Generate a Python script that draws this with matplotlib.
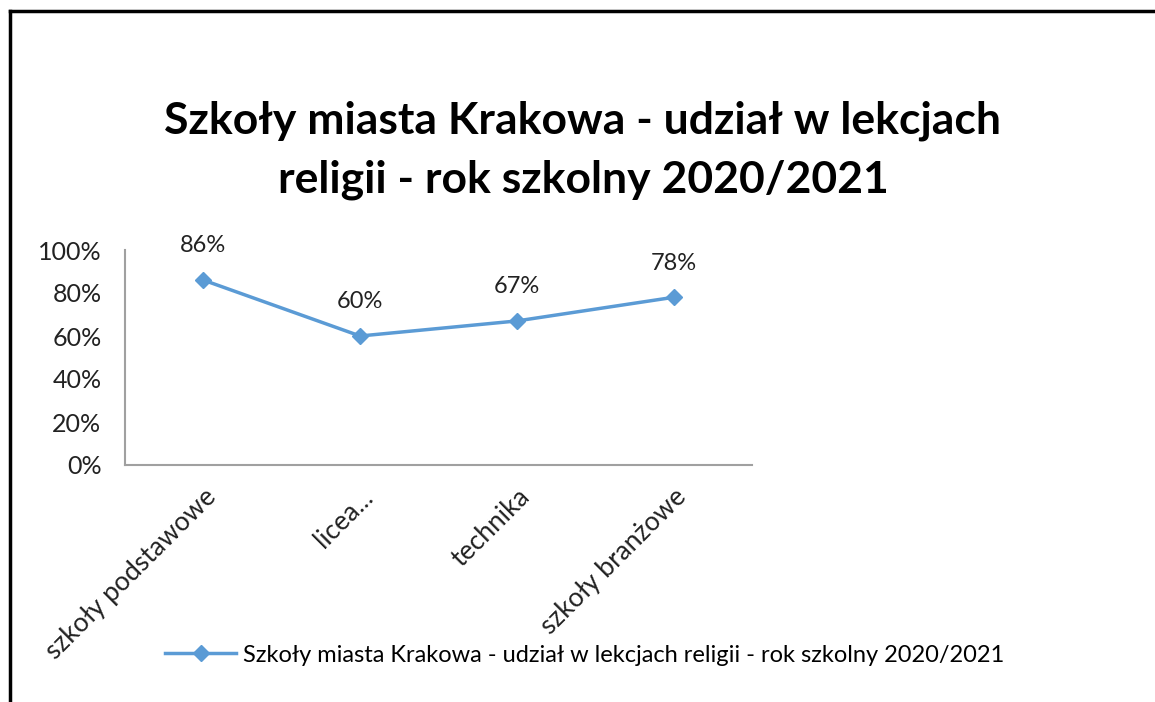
import matplotlib.pyplot as plt
from matplotlib.lines import Line2D
from matplotlib.ticker import PercentFormatter

plt.rcParams['font.family'] = ['Lato', 'DejaVu Sans']

categories = ["szkoły podstawowe", "licea...", "technika", "szkoły branżowe"]
values = [0.86, 0.60, 0.67, 0.78]
series_name = "Szkoły miasta Krakowa - udział w lekcjach religii - rok szkolny 2020/2021"
title = "Szkoły miasta Krakowa - udział w lekcjach\nreligii - rok szkolny 2020/2021"

W, H = 1155, 702
fig = plt.figure(figsize=(W / 100, H / 100), dpi=100)
ax = fig.add_axes([125 / W, 1 - 465 / H, (752 - 125) / W, (465 - 250) / H])

color = "#5b9bd5"
x = range(len(categories))
ax.plot(x, values, color=color, lw=2.5, marker="D", ms=8, label=series_name)
for xi, v in zip(x, values):
    ax.annotate(f"{v:.0%}", (xi, v), xytext=(0, 17), textcoords="offset points",
                ha="center", va="bottom", fontsize=17, color="#222222")

ax.set_xlim(-0.5, 3.5)
ax.set_ylim(0, 1)
ax.set_yticks([0, 0.2, 0.4, 0.6, 0.8, 1.0])
ax.yaxis.set_major_formatter(PercentFormatter(1.0, decimals=0))
ax.set_xticks(list(x))
ax.set_xticklabels(categories, rotation=45, ha="right", rotation_mode="anchor")
ax.tick_params(length=0, labelsize=18, colors="#222222")
ax.tick_params(axis="y", pad=17)
ax.tick_params(axis="x", pad=14, labelsize=19)
for s in ["top", "right"]:
    ax.spines[s].set_visible(False)
for s in ["left", "bottom"]:
    ax.spines[s].set_color("#a0a0a0")
    ax.spines[s].set_linewidth(1.5)

fig.text(583 / W, 1 - 150 / H, title, ha="center", va="center",
         fontsize=32, fontweight="bold", linespacing=1.55)

fig.legend(loc="center", bbox_to_anchor=(585 / W, 1 - 655 / H), frameon=False,
           fontsize=17, handlelength=3.0, handletextpad=0.3)

# page border lines
fig.add_artist(Line2D([10 / W, 10 / W], [0, 1 - 11 / H], color="black", lw=2.5,
                      transform=fig.transFigure))
fig.add_artist(Line2D([10 / W, 1], [1 - 11 / H, 1 - 11 / H], color="black", lw=2.5,
                      transform=fig.transFigure))

fig.savefig("out.png", dpi=100)
